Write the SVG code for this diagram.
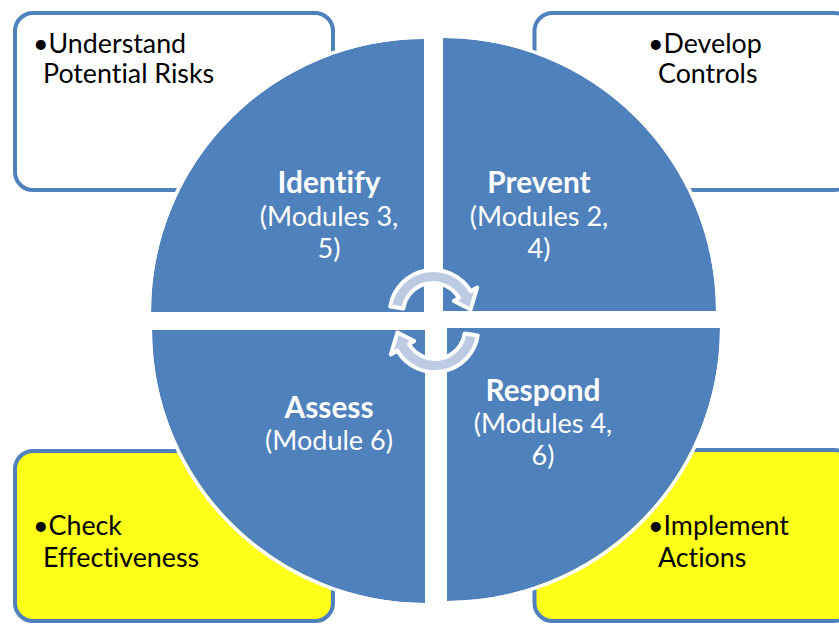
<svg xmlns="http://www.w3.org/2000/svg" width="839" height="624" viewBox="0 0 839 624">
<defs>
<style>
text{font-variant-ligatures:none}
.box{stroke:#4F81BD;stroke-width:4}
.wbox{fill:#FFFFFF}
.ybox{fill:#FFFF19}
.btxt{font-family:Lato,"Liberation Sans",sans-serif;font-size:26.8px;fill:#000}
.quad{fill:#4F81BD;stroke:none}
.qedge{fill:none;stroke:#FFFFFF;stroke-width:3.5}
.qtitle{font-family:Lato,"Liberation Sans",sans-serif;font-size:29.8px;font-weight:bold;fill:#FFFFFF;text-anchor:middle}
.qsub{font-family:Lato,"Liberation Sans",sans-serif;font-size:27px;fill:#FFFFFF;text-anchor:middle}
.arr{fill:#BCCBE3;stroke:#FFFFFF;stroke-width:4;stroke-linejoin:round}
</style>
<path id="cyc" d="M -42.8,-6.5 A 43.5 43.5 0 0 1 37.6,-21.7 L 44.2,-25.5 L 37.6,-3.5 L 20.8,-12 L 26,-15 A 30 30 0 0 0 -29.6,-4.5 Z"/>
</defs>
<rect width="839" height="624" fill="#FFFFFF"/>

<g id="box-understand">
<rect class="box wbox" x="15" y="13" width="318" height="177" rx="18"/>
<text class="btxt"><tspan x="33" y="53">•Understand</tspan><tspan x="43" y="83">Potential Risks</tspan></text>
</g>
<g id="box-develop">
<rect class="box wbox" x="534.5" y="13" width="318" height="177" rx="18"/>
<text class="btxt"><tspan x="648" y="53">•Develop</tspan><tspan x="658" y="83">Controls</tspan></text>
</g>
<g id="box-check">
<rect class="box ybox" x="15" y="451" width="318" height="170" rx="18"/>
<text class="btxt"><tspan x="33" y="535">•Check</tspan><tspan x="43" y="567">Effectiveness</tspan></text>
</g>
<g id="box-implement">
<rect class="box ybox" x="534.5" y="450" width="318" height="171" rx="18"/>
<text class="btxt"><tspan x="648" y="535">•Implement</tspan><tspan x="658" y="567">Actions</tspan></text>
</g>

<g id="q-identify">
<path class="quad" d="M 424,312 L 151,312 A 273 273 0 0 1 424,39 Z"/>
<path class="qedge" d="M 149.3,312 A 274.7 274.7 0 0 1 424,37.3"/>
<text class="qtitle" x="329" y="193">Identify</text>
<text class="qsub" x="329" y="226">(Modules 3,</text>
<text class="qsub" x="329" y="258">5)</text>
</g>
<g id="q-prevent">
<path class="quad" d="M 443,311 L 443,38 A 273 273 0 0 1 716,311 Z"/>
<path class="qedge" d="M 443,36.3 A 274.7 274.7 0 0 1 717.7,311"/>
<text class="qtitle" x="539" y="193">Prevent</text>
<text class="qsub" x="539" y="226">(Modules 2,</text>
<text class="qsub" x="539" y="258">4)</text>
</g>
<g id="q-assess">
<path class="quad" d="M 425,330 L 425,603 A 273 273 0 0 1 152,330 Z"/>
<path class="qedge" d="M 425,604.7 A 274.7 274.7 0 0 1 150.3,330"/>
<text class="qtitle" x="329" y="418">Assess</text>
<text class="qsub" x="329" y="450">(Module 6)</text>
</g>
<g id="q-respond">
<path class="quad" d="M 447,328 L 720,328 A 273 273 0 0 1 447,601 Z"/>
<path class="qedge" d="M 721.7,328 A 274.7 274.7 0 0 1 447,602.7"/>
<text class="qtitle" x="543" y="401">Respond</text>
<text class="qsub" x="543" y="433">(Modules 4,</text>
<text class="qsub" x="543" y="465">6)</text>
</g>

<g id="connectors">
<use href="#cyc" class="arr" transform="translate(433,313)"/>
<use href="#cyc" class="arr" transform="rotate(180 434 321) translate(433,313)"/>
</g>
</svg>
